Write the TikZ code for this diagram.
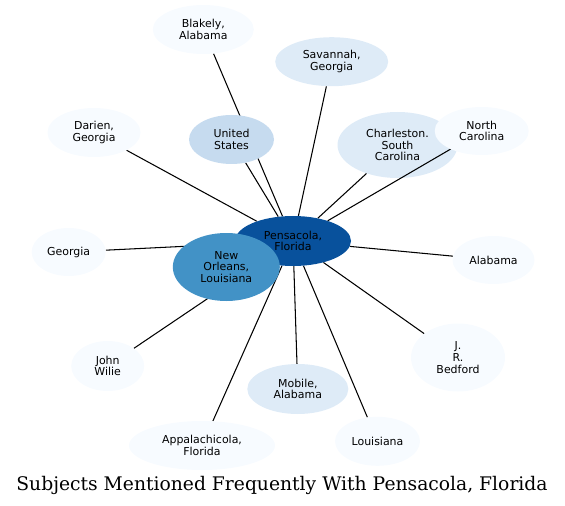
\documentclass[tikz,border=0pt]{standalone}
\usepackage{fontspec}
\usetikzlibrary{shapes.geometric}
\newfontfamily\labfont{DejaVu Sans}
\newfontfamily\ttlfont{DejaVu Serif}
\definecolor{bA}{HTML}{08519C}
\definecolor{bB}{HTML}{4292C6}
\definecolor{bC}{HTML}{C6DBEF}
\definecolor{bD}{HTML}{DEEBF7}
\definecolor{bE}{HTML}{F7FBFF}
\pgfdeclarelayer{bg}
\pgfdeclarelayer{mid}
\pgfdeclarelayer{top}
\pgfsetlayers{bg,main,mid,top}
\tikzset{
  nd/.style={ellipse, draw=none, inner sep=0pt, align=center,
    font=\labfont\fontsize{11}{11.8}\selectfont},
  edge/.style={draw=black, line width=1.05bp}
}
\begin{document}
\begin{tikzpicture}[x=1bp, y=-1bp]
\useasboundingbox (0,0) rectangle (565,506);
\node[nd, fill=bE, minimum width=101bp, minimum height=49bp] (bla) at (203.3,29.5) {Blakely,\\Alabama};
\node[nd, fill=bD, minimum width=113bp, minimum height=49bp] (sav) at (331.7,61.7) {Savannah,\\Georgia};
\node[nd, fill=bC, minimum width=85bp, minimum height=49bp] (us) at (231.5,139.5) {United\\States};
\node[nd, fill=bE, minimum width=93bp, minimum height=49bp] (dar) at (94,132.5) {Darien,\\Georgia};
\node[nd, fill=bD, minimum width=120bp, minimum height=66bp] (cha) at (397.5,145) {Charleston.\\South\\Carolina};
\begin{pgfonlayer}{top}
\node[nd, fill=bE, minimum width=94bp, minimum height=48bp] (nc) at (481.7,131) {North\\Carolina};
\end{pgfonlayer}
\node[nd, fill=bA, minimum width=116bp, minimum height=50bp] (pen) at (293,241) {Pensacola,\\Florida};
\node[nd, fill=bB, minimum width=107bp, minimum height=68bp] (no) at (226.3,267) {New\\Orleans,\\Louisiana};
\node[nd, fill=bE, minimum width=74bp, minimum height=48bp] (geo) at (68.7,252) {Georgia};
\node[nd, fill=bE, minimum width=82bp, minimum height=48bp] (ala) at (493.5,260) {Alabama};
\node[nd, fill=bE, minimum width=94bp, minimum height=68bp] (bed) at (458,357.5) {J.\\R.\\Bedford};
\node[nd, fill=bE, minimum width=73bp, minimum height=50bp] (wil) at (107.7,366) {John\\Wilie};
\node[nd, fill=bD, minimum width=101bp, minimum height=50bp] (mob) at (297.8,389) {Mobile,\\Alabama};
\node[nd, fill=bE, minimum width=146bp, minimum height=49bp] (app) at (202,445.5) {Appalachicola,\\Florida};
\node[nd, fill=bE, minimum width=85bp, minimum height=49bp] (lou) at (377.5,441.3) {Louisiana};
\begin{pgfonlayer}{bg}
\foreach \t in {bla,sav,us,dar,cha,geo,ala,bed,wil,mob,app,lou}
  \draw[edge] (pen) -- (\t);
\end{pgfonlayer}
\begin{pgfonlayer}{mid}
\draw[edge] (pen) -- (nc);
\end{pgfonlayer}
\node[font=\ttlfont\fontsize{18.8}{22}\selectfont] (title) at (282,485) {Subjects Mentioned Frequently With Pensacola, Florida};
\end{tikzpicture}
\end{document}
